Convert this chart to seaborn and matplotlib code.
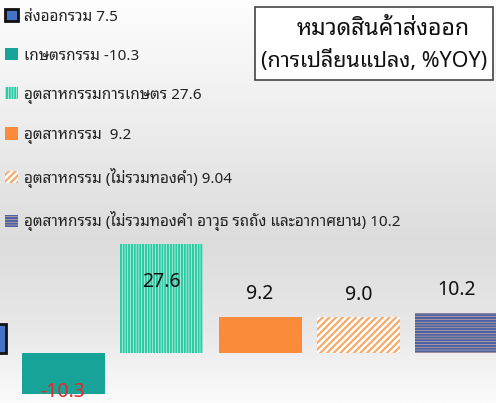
import numpy as np
import pandas as pd
import seaborn as sns
import matplotlib
matplotlib.use('Agg')
import matplotlib.pyplot as plt
from matplotlib.colors import LinearSegmentedColormap
from matplotlib.patches import Rectangle

# ข้อมูล
categories = ['ส่งออกรวม', 'เกษตรกรรม', 'อุตสาหกรรมการเกษตร', 'อุตสาหกรรม',
              'อุตสาหกรรม (ไม่รวมทองคำ)',
              'อุตสาหกรรม (ไม่รวมทองคำ อาวุธ รถถัง และอากาศยาน)']
values = [7.5, -10.3, 27.6, 9.2, 9.04, 10.2]
legend_values = ['7.5', '-10.3', '27.6', ' 9.2', '9.04', '10.2']
title_lines = ['หมวดสินค้าส่งออก', '(การเปลี่ยนแปลง, %YOY)']

sns.set_style('white')
plt.rcParams['font.family'] = ['Noto Sans Thai Looped', 'DejaVu Sans']
plt.rcParams['hatch.linewidth'] = 1.6

df = pd.DataFrame({'cat': categories, 'val': values})

face = ['#4472C4', '#17A398', '#FFFFFF', '#F98B3A', '#FFFFFF', '#F7B98C']
edge = ['#111111', '#17A398', '#2DCBA3', '#F98B3A', '#F9A968', '#4A62A8']
hatches = [None, None, '||||||', None, '/////', '------']

fig = plt.figure(figsize=(4.96, 4.03), dpi=100)
ax = fig.add_axes([0, 0, 1, 1])

# พื้นหลังไล่เฉด
bg = LinearSegmentedColormap.from_list('bg', [(0, '#fdfdfd'), (0.25, '#f0f0f0'),
                                              (0.6, '#dcdcdc'), (0.82, '#e8e8e8'),
                                              (1.0, '#fbfbfb')])
ax.imshow(np.linspace(0, 1, 200).reshape(-1, 1), cmap=bg, aspect='auto',
          extent=(-1, 7, -12.55, 89.2), origin='upper', zorder=0)

sns.barplot(data=df, x='cat', y='val', hue='cat', palette=face, width=0.843,
            legend=False, ax=ax, zorder=2)

for i, p in enumerate(ax.patches):
    p.set_facecolor(face[i])
    p.set_edgecolor(edge[i])
    if hatches[i]:
        p.set_hatch(hatches[i])
        p.set_linewidth(0)
    elif i == 0:
        p.set_linewidth(2)
    else:
        p.set_linewidth(0)

# ป้ายค่า
for i, v in enumerate(values):
    txt = f'{v:.1f}'
    if v < 0:
        ax.annotate(txt, (i, v), xytext=(0, 1.5), textcoords='offset points',
                    ha='center', va='center', fontsize=14, color='#E02B2B', zorder=5)
    elif v > 20:
        ax.annotate(txt, (i, v), xytext=(0, -20), textcoords='offset points',
                    ha='center', va='top', fontsize=14, color='#111111', zorder=5)
    else:
        ax.annotate(txt, (i, v), xytext=(0, 9), textcoords='offset points',
                    ha='center', va='bottom', fontsize=14, color='#111111', zorder=5)

ax.set_xlim(0.36, 5.396)
ax.set_ylim(-12.55, 89.2)
ax.axis('off')

labels = [f'{c} {lv}' for c, lv in zip(categories, legend_values)]
leg = ax.legend(handles=list(ax.patches), labels=labels, loc='upper left',
                bbox_to_anchor=(-0.008, 1.0), frameon=False, fontsize=11,
                handlelength=0.85, handleheight=0.85, handletextpad=0.35,
                labelspacing=1.55, borderaxespad=0.2)
for t in leg.get_texts():
    t.set_color('#222222')

# กล่องหัวเรื่อง
fig.patches.append(Rectangle((255 / 496, 1 - 80 / 403), 238 / 496, 73 / 403,
                             transform=fig.transFigure, facecolor='white',
                             edgecolor='#444444', linewidth=1.2, zorder=3))
fig.text(383 / 496, 1 - 29 / 403, title_lines[0], ha='center', va='center',
         fontsize=16.5, color='#111111', zorder=4)
fig.text(374 / 496, 1 - 61 / 403, title_lines[1], ha='center', va='center',
         fontsize=15.5, color='#111111', zorder=4)

fig.savefig('out.png', dpi=100)
